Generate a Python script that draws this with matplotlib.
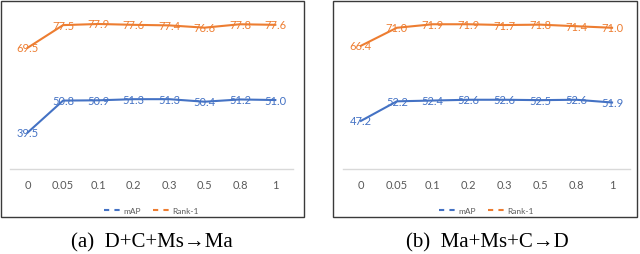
import matplotlib
matplotlib.use("Agg")
import matplotlib.pyplot as plt
from matplotlib.lines import Line2D
from matplotlib.patches import Rectangle

# 数据
categories = ["0", "0.05", "0.1", "0.2", "0.3", "0.5", "0.8", "1"]
map_a = [39.5, 50.8, 50.9, 51.3, 51.3, 50.4, 51.2, 51.0]
rank1_a = [69.5, 77.5, 77.9, 77.6, 77.4, 76.6, 77.8, 77.6]
map_b = [47.2, 52.2, 52.4, 52.6, 52.6, 52.5, 52.6, 51.9]
rank1_b = [66.4, 71.0, 71.9, 71.9, 71.7, 71.8, 71.4, 71.0]
captions = ["(a)  D+C+Ms\u2192Ma", "(b)  Ma+Ms+C\u2192D"]

BLUE = "#4472C4"
ORANGE = "#ED7D31"
GRAY = "#595959"
W, H = 640, 255


def _panel(fig, rect, map_vals, r1_vals, ylim):
    ax = fig.add_axes(rect)
    x = list(range(len(categories)))
    ax.plot(x, map_vals, color=BLUE, lw=1.5, zorder=2)
    ax.plot(x, r1_vals, color=ORANGE, lw=1.5, zorder=2)
    for xi, v in zip(x, map_vals):
        ax.text(xi, v, f"{v:.1f}", color=BLUE, fontsize=8, family="Lato",
                ha="center", va="center", zorder=3)
    for xi, v in zip(x, r1_vals):
        ax.text(xi, v, f"{v:.1f}", color=ORANGE, fontsize=8, family="Lato",
                ha="center", va="center", zorder=3)
    ax.set_xlim(-0.5, len(categories) - 0.5)
    ax.set_ylim(*ylim)
    ax.set_xticks(x)
    ax.set_xticklabels(categories, color=GRAY, fontsize=8, family="Lato")
    ax.tick_params(axis="x", length=0, pad=7)
    ax.set_yticks([])
    for s in ("top", "left", "right"):
        ax.spines[s].set_visible(False)
    ax.spines["bottom"].set_color("#D9D9D9")
    ax.spines["bottom"].set_linewidth(1.0)
    handles = [Line2D([], [], color=BLUE, lw=1.5, dashes=(2.5, 2.5)),
               Line2D([], [], color=ORANGE, lw=1.5, dashes=(2.5, 2.5))]
    leg = ax.legend(handles, ["mAP", "Rank-1"], loc="upper center",
                    bbox_to_anchor=(0.5, -0.19), ncol=2, frameon=False,
                    handlelength=2.2, handletextpad=0.15, columnspacing=1.4,
                    prop={"family": "Lato", "size": 6})
    for t in leg.get_texts():
        t.set_color(GRAY)
    return ax


fig = plt.figure(figsize=(W / 100, H / 100), dpi=100)

ax_bottom = (H - 170) / H
ax_h = 160 / H
_panel(fig, [10 / W, ax_bottom, 283 / W, ax_h], map_a, rank1_a, (26.6, 83.2))
_panel(fig, [343 / W, ax_bottom, 287 / W, ax_h], map_b, rank1_b, (34.9, 75.8))

# 外框
for x0, x1 in [(0.5, 304), (333, 637)]:
    fig.patches.append(Rectangle((x0 / W, (H - 218) / H), (x1 - x0) / W, 216 / H,
                                 transform=fig.transFigure, fill=False,
                                 edgecolor="#3A3A3A", lw=1.0))

# 子图标题
for cx, cap in zip([152, 487], captions):
    fig.text(cx / W, (H - 243) / H, cap, ha="center", va="center", fontsize=15,
             family=["Liberation Serif", "DejaVu Serif"])

fig.savefig("out.png", dpi=100)
